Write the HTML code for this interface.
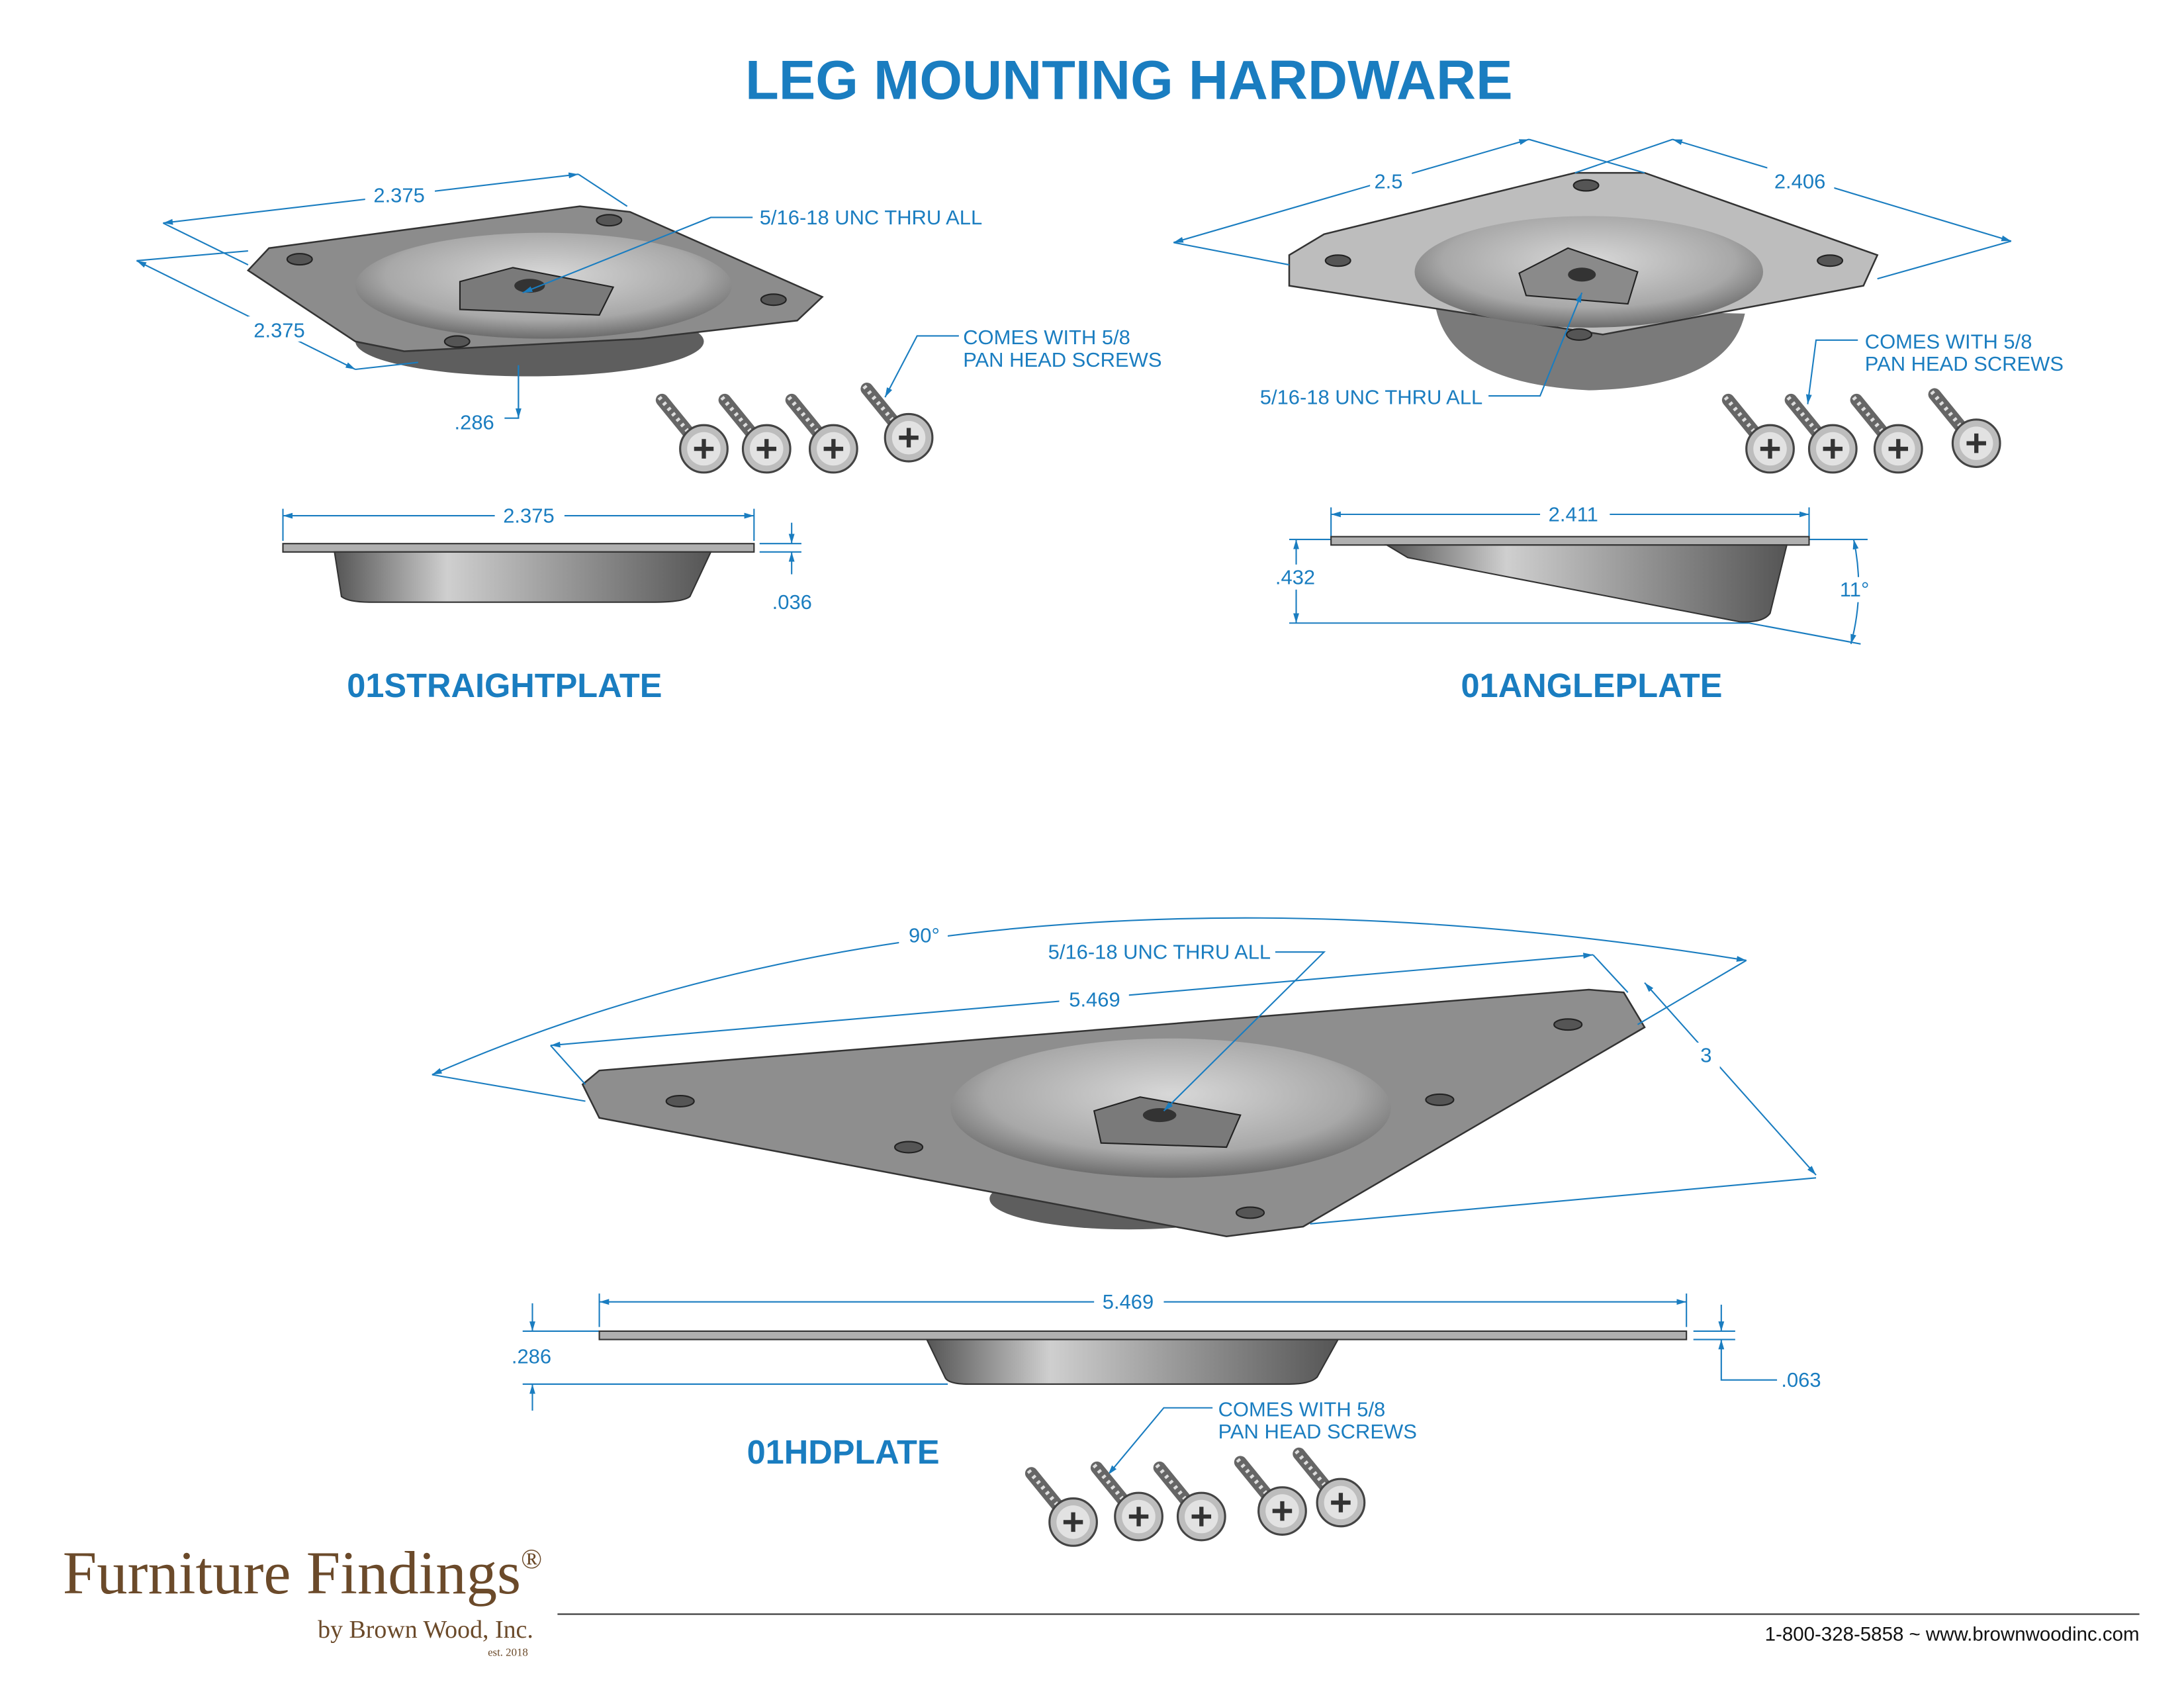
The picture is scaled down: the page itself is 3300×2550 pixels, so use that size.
<!DOCTYPE html>
<html><head><meta charset="utf-8"><style>
html,body{margin:0;padding:0;background:#fff}
svg{display:block}
text{font-family:"Liberation Sans",sans-serif}
text.serif{font-family:"Liberation Serif",serif}
</style></head><body>
<svg width="3300" height="2550" viewBox="0 0 1567 1211" preserveAspectRatio="none" xmlns="http://www.w3.org/2000/svg">
<defs>
<radialGradient id="bowl" cx="50%" cy="40%" r="60%"><stop offset="0" stop-color="#d8d8d8"/><stop offset="0.7" stop-color="#a8a8a8"/><stop offset="1" stop-color="#6c6c6c"/></radialGradient>
<linearGradient id="side" x1="0" x2="1"><stop offset="0" stop-color="#555"/><stop offset="0.3" stop-color="#cfcfcf"/><stop offset="0.6" stop-color="#9a9a9a"/><stop offset="1" stop-color="#555"/></linearGradient>
<marker id="a" viewBox="0 0 10 10" refX="10" refY="5" markerWidth="7" markerHeight="7" orient="auto-start-reverse"><path d="M0,2 L10,5 L0,8z" fill="#1a7dc0"/></marker>
<g id="screw">
<path d="M-30,-35 L-8,-8" stroke="#666" stroke-width="9" stroke-linecap="round"/>
<path d="M-32,-37 L-6,-6" stroke="#ddd" stroke-width="3" stroke-dasharray="2 3"/>
<circle r="17" fill="#bdbdbd" stroke="#444" stroke-width="1.5"/>
<circle r="12" fill="#e2e2e2"/>
<path d="M-7,0 H7 M0,-7 V7" stroke="#333" stroke-width="3"/>
</g>
</defs>
<text x="810" y="71" text-anchor="middle" font-size="39.5" font-weight="bold" fill="#1a7dc0">LEG MOUNTING HARDWARE</text>

<!-- STRAIGHT PLATE top -->
<ellipse cx="380" cy="245" rx="125" ry="25" fill="#5e5e5e"/>
<polygon points="178,194 193,178 416,148 452,152 590,213 572,230 460,243 290,252 255,245" fill="#8c8c8c" stroke="#333" stroke-width="1.2"/>
<ellipse cx="390" cy="205" rx="135" ry="38" fill="url(#bowl)"/>
<polygon points="330,202 368,192 440,206 430,226 330,222" fill="#7a7a7a" stroke="#222"/>
<ellipse cx="380" cy="205" rx="11" ry="5" fill="#333"/>
<g fill="#555" stroke="#222"><ellipse cx="215" cy="186" rx="9" ry="4"/><ellipse cx="437" cy="158" rx="9" ry="4"/><ellipse cx="555" cy="215" rx="9" ry="4"/><ellipse cx="328" cy="245" rx="9" ry="4"/></g>
<g stroke="#1a7dc0" fill="none" stroke-width="1">
<line x1="117" y1="160" x2="415" y2="125" marker-start="url(#a)" marker-end="url(#a)"/>
<line x1="117" y1="160" x2="178" y2="190"/><line x1="415" y1="125" x2="450" y2="148"/>
<line x1="98" y1="187" x2="255" y2="265" marker-start="url(#a)" marker-end="url(#a)"/>
<line x1="98" y1="187" x2="178" y2="180"/><line x1="255" y1="265" x2="300" y2="260"/>
<polyline points="372,262 372,300 362,300"/><line x1="372" y1="262" x2="372" y2="300" marker-end="url(#a)"/>
<polyline points="540,156 510,156 375,210" marker-end="url(#a)"/>
<polyline points="688,241 658,241 635,285" marker-end="url(#a)"/>
<line x1="203" y1="370" x2="541" y2="370" marker-start="url(#a)" marker-end="url(#a)"/>
<line x1="203" y1="365" x2="203" y2="388"/><line x1="541" y1="365" x2="541" y2="388"/>
<line x1="568" y1="375" x2="568" y2="390" marker-end="url(#a)"/><line x1="568" y1="412" x2="568" y2="396" marker-end="url(#a)"/>
<line x1="545" y1="390" x2="575" y2="390"/><line x1="545" y1="396" x2="575" y2="396"/>
</g>
<g fill="#1a7dc0" font-size="14.7">
<rect x="262" y="130" width="50" height="18" fill="#fff"/><text x="268" y="145">2.375</text>
<rect x="178" y="227" width="45" height="18" fill="#fff"/><text x="182" y="242">2.375</text>
<text x="326" y="308">.286</text>
<text x="545" y="161">5/16-18 UNC THRU ALL</text>
<text x="691" y="247">COMES WITH 5/8</text><text x="691" y="263">PAN HEAD SCREWS</text>
<rect x="355" y="362" width="50" height="16" fill="#fff"/><text x="361" y="375">2.375</text>
<text x="554" y="437">.036</text>
</g>
<rect x="203" y="390" width="338" height="6" fill="#b0b0b0" stroke="#333"/>
<path d="M240,396 H510 L495,428 Q490,432 470,432 H265 Q250,432 245,428Z" fill="url(#side)" stroke="#333"/>
<text x="362" y="500" text-anchor="middle" font-size="24" font-weight="bold" fill="#1a7dc0">01STRAIGHTPLATE</text>
<use href="#screw" x="505" y="322"/><use href="#screw" x="550" y="322"/><use href="#screw" x="598" y="322"/><use href="#screw" x="652" y="314"/>

<!-- ANGLE PLATE -->
<path d="M1030,220 Q1040,275 1140,280 Q1240,278 1252,225 Z" fill="#7a7a7a"/>
<polygon points="925,183 950,168 1130,124 1180,124 1347,183 1337,205 1150,240 925,205" fill="#bdbdbd" stroke="#333" stroke-width="1.2"/>
<ellipse cx="1140" cy="195" rx="125" ry="40" fill="url(#bowl)"/>
<polygon points="1090,196 1125,178 1175,195 1168,218 1095,212" fill="#8a8a8a" stroke="#222"/>
<ellipse cx="1135" cy="197" rx="10" ry="5" fill="#333"/>
<g fill="#555" stroke="#222"><ellipse cx="960" cy="187" rx="9" ry="4"/><ellipse cx="1138" cy="133" rx="9" ry="4"/><ellipse cx="1313" cy="187" rx="9" ry="4"/><ellipse cx="1133" cy="240" rx="9" ry="4"/></g>
<g stroke="#1a7dc0" fill="none" stroke-width="1">
<line x1="842" y1="174" x2="1097" y2="100" marker-start="url(#a)" marker-end="url(#a)"/>
<line x1="842" y1="174" x2="925" y2="190"/><line x1="1097" y1="100" x2="1180" y2="124"/>
<line x1="1200" y1="100" x2="1443" y2="173" marker-start="url(#a)" marker-end="url(#a)"/>
<line x1="1200" y1="100" x2="1130" y2="124"/><line x1="1443" y1="173" x2="1347" y2="200"/>
<polyline points="1068,284 1105,284 1135,210" marker-end="url(#a)"/>
<polyline points="1333,244 1303,244 1297,290" marker-end="url(#a)"/>
<line x1="955" y1="369" x2="1298" y2="369" marker-start="url(#a)" marker-end="url(#a)"/>
<line x1="955" y1="364" x2="955" y2="386"/><line x1="1298" y1="364" x2="1298" y2="386"/>
<line x1="930" y1="387" x2="930" y2="447" marker-start="url(#a)" marker-end="url(#a)"/>
<line x1="925" y1="387" x2="955" y2="387"/><line x1="925" y1="447" x2="1255" y2="447"/>
<line x1="1298" y1="387" x2="1340" y2="387"/><line x1="1255" y1="447" x2="1335" y2="462"/>
<path d="M1330,387 Q1338,425 1328,462" marker-start="url(#a)" marker-end="url(#a)"/>
</g>
<g fill="#1a7dc0" font-size="14.7">
<rect x="983" y="120" width="30" height="18" fill="#fff"/><text x="986" y="135">2.5</text>
<rect x="1268" y="120" width="48" height="18" fill="#fff"/><text x="1273" y="135">2.406</text>
<text x="904" y="290">5/16-18 UNC THRU ALL</text>
<text x="1338" y="250">COMES WITH 5/8</text><text x="1338" y="266">PAN HEAD SCREWS</text>
<rect x="1105" y="361" width="50" height="16" fill="#fff"/><text x="1111" y="374">2.411</text>
<rect x="913" y="405" width="32" height="18" fill="#fff"/><text x="915" y="419">.432</text>
<rect x="1318" y="414" width="24" height="18" fill="#fff"/><text x="1320" y="428">11°</text>
</g>
<rect x="955" y="385" width="343" height="6" fill="#b0b0b0" stroke="#333"/>
<path d="M995,391 H1282 L1270,440 Q1265,447 1248,446 L1010,400Z" fill="url(#side)" stroke="#333"/>
<text x="1142" y="500" text-anchor="middle" font-size="24" font-weight="bold" fill="#1a7dc0">01ANGLEPLATE</text>
<use href="#screw" x="1270" y="322"/><use href="#screw" x="1315" y="322"/><use href="#screw" x="1362" y="322"/><use href="#screw" x="1418" y="318"/>

<!-- HD PLATE -->
<ellipse cx="810" cy="860" rx="100" ry="22" fill="#5e5e5e"/>
<polygon points="418,778 430,768 1140,710 1165,712 1180,737 935,880 880,887 430,802" fill="#8e8e8e" stroke="#333" stroke-width="1.2"/>
<ellipse cx="840" cy="795" rx="158" ry="50" fill="url(#bowl)"/>
<polygon points="785,797 818,787 890,800 880,823 790,820" fill="#7a7a7a" stroke="#222"/>
<ellipse cx="832" cy="800" rx="12" ry="5" fill="#333"/>
<g fill="#555" stroke="#222"><ellipse cx="488" cy="790" rx="10" ry="4"/><ellipse cx="652" cy="823" rx="10" ry="4"/><ellipse cx="897" cy="870" rx="10" ry="4"/><ellipse cx="1033" cy="789" rx="10" ry="4"/><ellipse cx="1125" cy="735" rx="10" ry="4"/></g>
<g stroke="#1a7dc0" fill="none" stroke-width="1">
<path d="M310,771 Q700,600 1253,689" marker-start="url(#a)" marker-end="url(#a)"/>
<line x1="395" y1="750" x2="1143" y2="685" marker-start="url(#a)" marker-end="url(#a)"/>
<line x1="395" y1="750" x2="420" y2="778"/><line x1="1143" y1="685" x2="1168" y2="712"/>
<line x1="1180" y1="705" x2="1303" y2="843" marker-start="url(#a)" marker-end="url(#a)"/>
<line x1="1303" y1="845" x2="940" y2="878"/><line x1="1253" y1="689" x2="1175" y2="735"/><line x1="310" y1="771" x2="420" y2="790"/>
<polyline points="915,683 950,683 835,797" marker-end="url(#a)"/>
<polyline points="870,1010 835,1010 795,1058" marker-end="url(#a)"/>
<line x1="430" y1="934" x2="1210" y2="934" marker-start="url(#a)" marker-end="url(#a)"/>
<line x1="430" y1="928" x2="430" y2="952"/><line x1="1210" y1="928" x2="1210" y2="952"/>
<line x1="382" y1="935" x2="382" y2="955" marker-end="url(#a)"/><line x1="382" y1="1012" x2="382" y2="993" marker-end="url(#a)"/>
<line x1="375" y1="955" x2="430" y2="955"/><line x1="375" y1="993" x2="680" y2="993"/>
<line x1="1235" y1="936" x2="1235" y2="955" marker-end="url(#a)"/><line x1="1235" y1="975" x2="1235" y2="961" marker-end="url(#a)"/>
<line x1="1215" y1="955" x2="1245" y2="955"/><line x1="1215" y1="961" x2="1245" y2="961"/>
<polyline points="1235,975 1235,990 1275,990"/>
</g>
<g fill="#1a7dc0" font-size="14.7">
<rect x="645" y="662" width="35" height="18" fill="#fff"/><text x="652" y="676">90°</text>
<text x="752" y="688">5/16-18 UNC THRU ALL</text>
<rect x="760" y="708" width="50" height="18" fill="#fff"/><text x="767" y="722">5.469</text>
<rect x="1214" y="748" width="20" height="18" fill="#fff"/><text x="1220" y="762">3</text>
<rect x="785" y="926" width="50" height="16" fill="#fff"/><text x="791" y="939">5.469</text>
<text x="367" y="978">.286</text>
<text x="1278" y="995">.063</text>
<text x="874" y="1016">COMES WITH 5/8</text><text x="874" y="1032">PAN HEAD SCREWS</text>
</g>
<rect x="430" y="955" width="780" height="6" fill="#b0b0b0" stroke="#333"/>
<path d="M665,961 H960 L945,988 Q940,993 925,993 H695 Q680,993 678,988Z" fill="url(#side)" stroke="#333"/>
<text x="605" y="1050" text-anchor="middle" font-size="24" font-weight="bold" fill="#1a7dc0">01HDPLATE</text>
<use href="#screw" x="770" y="1092"/><use href="#screw" x="817" y="1088"/><use href="#screw" x="862" y="1088"/><use href="#screw" x="920" y="1084"/><use href="#screw" x="962" y="1078"/>

<!-- Footer -->
<text class="serif" x="45" y="1143" font-size="44" fill="#6b4a2a">Furniture Findings<tspan font-size="20" dy="-18">®</tspan></text>
<text class="serif" x="228" y="1175" font-size="18" fill="#6b4a2a">by Brown Wood, Inc.</text>
<text class="serif" x="350" y="1188" font-size="8" fill="#6b4a2a">est. 2018</text>
<line x1="400" y1="1158" x2="1535" y2="1158" stroke="#333" stroke-width="1"/>
<text x="1535" y="1177" text-anchor="end" font-size="14" fill="#111">1-800-328-5858 ~ www.brownwoodinc.com</text>
</svg>
</body></html>
